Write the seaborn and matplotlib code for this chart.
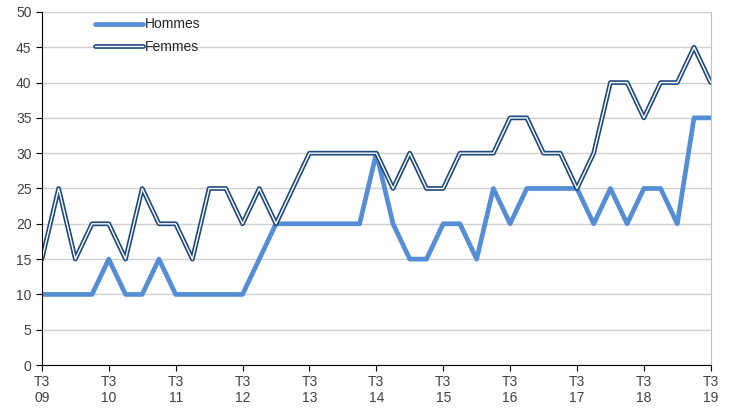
import numpy as np
import pandas as pd
import matplotlib
matplotlib.use("Agg")
import matplotlib.pyplot as plt
import matplotlib.patheffects as pe
import seaborn as sns

# quarterly values, T3 2009 -> T3 2019
hommes = [10, 10, 10, 10, 15, 10, 10, 15, 10, 10, 10, 10, 10, 15, 20, 20, 20, 20, 20, 20,
          30, 20, 15, 15, 20, 20, 15, 25, 20, 25, 25, 25, 25, 20, 25, 20, 25, 25, 20, 35, 35]
femmes = [15, 25, 15, 20, 20, 15, 25, 20, 20, 15, 25, 25, 20, 25, 20, 25, 30, 30, 30, 30,
          30, 25, 30, 25, 25, 30, 30, 30, 35, 35, 30, 30, 25, 30, 40, 40, 35, 40, 40, 45, 40]
tick_labels = ["T3\n09", "T3\n10", "T3\n11", "T3\n12", "T3\n13", "T3\n14",
               "T3\n15", "T3\n16", "T3\n17", "T3\n18", "T3\n19"]

df = pd.DataFrame({"q": np.arange(len(hommes)), "Hommes": hommes, "Femmes": femmes})

sns.set_style("white")
plt.rcParams["font.family"] = ["Liberation Sans", "DejaVu Sans"]

fig, ax = plt.subplots(figsize=(7.35, 4.12), dpi=100)
fig.subplots_adjust(left=0.057, right=0.967, top=0.971, bottom=0.114)

sns.lineplot(data=df, x="q", y="Hommes", ax=ax, color="#558ED5", lw=3.4,
             label="Hommes", solid_joinstyle="round")
sns.lineplot(data=df, x="q", y="Femmes", ax=ax, color="white", lw=1.0,
             label="Femmes",
             path_effects=[pe.Stroke(linewidth=3.4, foreground="#1F497D"), pe.Normal()])

ax.set_xlim(0, 40)
ax.set_ylim(0, 50)
ax.set_yticks(range(0, 51, 5))
ax.set_xticks(range(0, 41, 4))
ax.set_xticklabels(tick_labels)
ax.set_xlabel("")
ax.set_ylabel("")
ax.yaxis.grid(True, color="#D0D0D0", lw=1)
ax.set_axisbelow(True)

ax.spines["top"].set_visible(False)
ax.spines["right"].set_color("#BFBFBF")
ax.spines["left"].set_color("black")
ax.spines["bottom"].set_color("black")
ax.tick_params(axis="both", which="both", direction="out", length=4, width=0.8,
               labelsize=10, colors="black", bottom=True, left=True)
ax.tick_params(axis="both", labelcolor="#404040")
ax.tick_params(axis="x", pad=3)

ax.legend(loc="upper left", bbox_to_anchor=(0.06, 1.02), frameon=False,
          fontsize=10, handlelength=3.5, handletextpad=0.1, labelspacing=0.6)

fig.savefig("out.png", dpi=100)
